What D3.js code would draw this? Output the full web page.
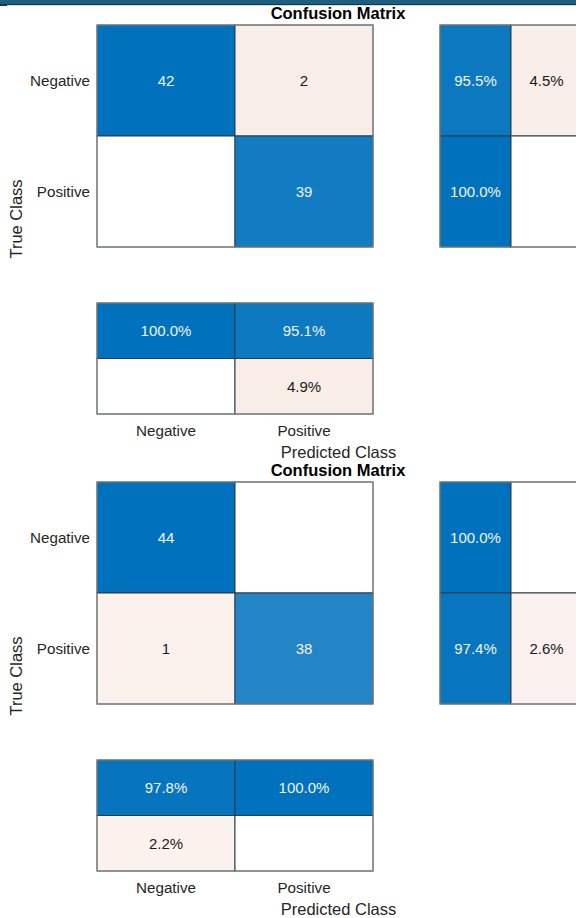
<!DOCTYPE html>
<html><head><meta charset="utf-8">
<script src="https://cdn.jsdelivr.net/npm/d3@7"></script>
<style>body{margin:0;background:#fff;overflow:hidden}</style></head>
<body><svg id="c" width="576" height="918"></svg>
<script>
// ---- data ----
const classes = ["Negative", "Positive"];
const counts1 = [[42, 2], [0, 39]];
const counts2 = [[44, 0], [1, 38]];
const titleText = "Confusion Matrix";
const xLabelText = "Predicted Class";
const yLabelText = "True Class";

// ---- style ----
const FONT = "'Liberation Sans', Arial, Helvetica, sans-serif";
const svg = d3.select("#c");
const blueI = d3.interpolateRgb("#ffffff", "#0072BD");
const pink = d3.scaleLinear().domain([0.02, 0.05]).range(["#FBF2EF", "#F9EDE8"]);
function offColor(f) { return f <= 0 ? "#ffffff" : pink(f); }
function fmt(p) { return p.toFixed(1) + "%"; }

// top bar
svg.append("rect").attr("x", 0).attr("y", 0).attr("width", 576).attr("height", 4).attr("fill", "#1f5e7e");
svg.append("rect").attr("x", 0).attr("y", 4).attr("width", 576).attr("height", 1.2).attr("fill", "#0e3b50");
svg.append("rect").attr("x", 0).attr("y", 5).attr("width", 7).attr("height", 1).attr("fill", "#0e3b50");

function drawChart(counts, dy) {
  const g = svg.append("g").attr("transform", `translate(0,${dy})`);
  const x = d3.scaleBand().domain(classes).range([97, 373]);
  const y = d3.scaleBand().domain(classes).range([25, 247]);
  const rsX = d3.scaleBand().domain([0, 1]).range([440, 582]);
  const csY = d3.scaleBand().domain([0, 1]).range([303, 414]);
  const mx = d3.max(counts.flat());

  function cell(x0, y0, w, h, fill, label, dark) {
    g.append("rect").attr("x", x0).attr("y", y0).attr("width", w).attr("height", h)
      .attr("fill", fill).attr("stroke", "#2b3b47").attr("stroke-width", 1);
    if (label !== null) {
      g.append("text").attr("x", x0 + w / 2).attr("y", y0 + h / 2)
        .attr("text-anchor", "middle").attr("dominant-baseline", "central")
        .attr("font-family", FONT).attr("font-size", 15)
        .attr("fill", dark ? "#f2f2f2" : "#1a1a1a").text(label);
    }
  }
  function border(x0, y0, w, h) {
    g.append("rect").attr("x", x0).attr("y", y0).attr("width", w).attr("height", h)
      .attr("fill", "none").attr("stroke", "#8c8c8c").attr("stroke-width", 1);
  }

  // main matrix
  classes.forEach((rc, i) => classes.forEach((cc, j) => {
    const v = counts[i][j];
    const f = v / mx;
    const fill = i === j ? blueI(f) : offColor(f);
    cell(x(cc), y(rc), x.bandwidth(), y.bandwidth(), fill, v > 0 ? String(v) : null, i === j && f > 0.5);
  }));

  // row summary
  classes.forEach((rc, i) => {
    const tot = d3.sum(counts[i]);
    const pc = counts[i][i] / tot * 100, pw = 100 - pc;
    cell(rsX(0), y(rc), rsX.bandwidth(), y.bandwidth(), blueI(pc / 100), pc > 0 ? fmt(pc) : null, pc > 50);
    cell(rsX(1), y(rc), rsX.bandwidth(), y.bandwidth(), offColor(pw / 100), pw > 0.001 ? fmt(pw) : null, false);
  });

  // column summary
  classes.forEach((cc, j) => {
    const tot = d3.sum(counts, r => r[j]);
    const pc = counts[j][j] / tot * 100, pw = 100 - pc;
    cell(x(cc), csY(0), x.bandwidth(), csY.bandwidth(), blueI(pc / 100), pc > 0 ? fmt(pc) : null, pc > 50);
    cell(x(cc), csY(1), x.bandwidth(), csY.bandwidth(), offColor(pw / 100), pw > 0.001 ? fmt(pw) : null, false);
  });

  border(97, 25, 276, 222);
  border(440, 25, 142, 222);
  border(97, 303, 276, 111);

  // y tick labels
  classes.forEach(rc => {
    g.append("text").attr("x", 90).attr("y", y(rc) + y.bandwidth() / 2)
      .attr("text-anchor", "end").attr("dominant-baseline", "central")
      .attr("font-family", FONT).attr("font-size", 15.2).attr("fill", "#262626").text(rc);
  });
  // x tick labels
  classes.forEach(cc => {
    g.append("text").attr("x", x(cc) + x.bandwidth() / 2).attr("y", 430.5)
      .attr("text-anchor", "middle").attr("dominant-baseline", "central")
      .attr("font-family", FONT).attr("font-size", 15.2).attr("fill", "#262626").text(cc);
  });
  // axis labels
  g.append("text").attr("x", 338.5).attr("y", 452)
    .attr("text-anchor", "middle").attr("dominant-baseline", "central")
    .attr("font-family", FONT).attr("font-size", 16.5).attr("fill", "#262626").text(xLabelText);
  g.append("text").attr("transform", "translate(16,219) rotate(-90)")
    .attr("text-anchor", "middle").attr("dominant-baseline", "central")
    .attr("font-family", FONT).attr("font-size", 16.5).attr("fill", "#262626").text(yLabelText);
  // title
  g.append("text").attr("x", 338).attr("y", 13)
    .attr("text-anchor", "middle").attr("dominant-baseline", "central")
    .attr("font-family", FONT).attr("font-size", 16.5).attr("font-weight", "bold")
    .attr("fill", "#000").text(titleText);
}

drawChart(counts1, 0);
drawChart(counts2, 457);
</script></body></html>
